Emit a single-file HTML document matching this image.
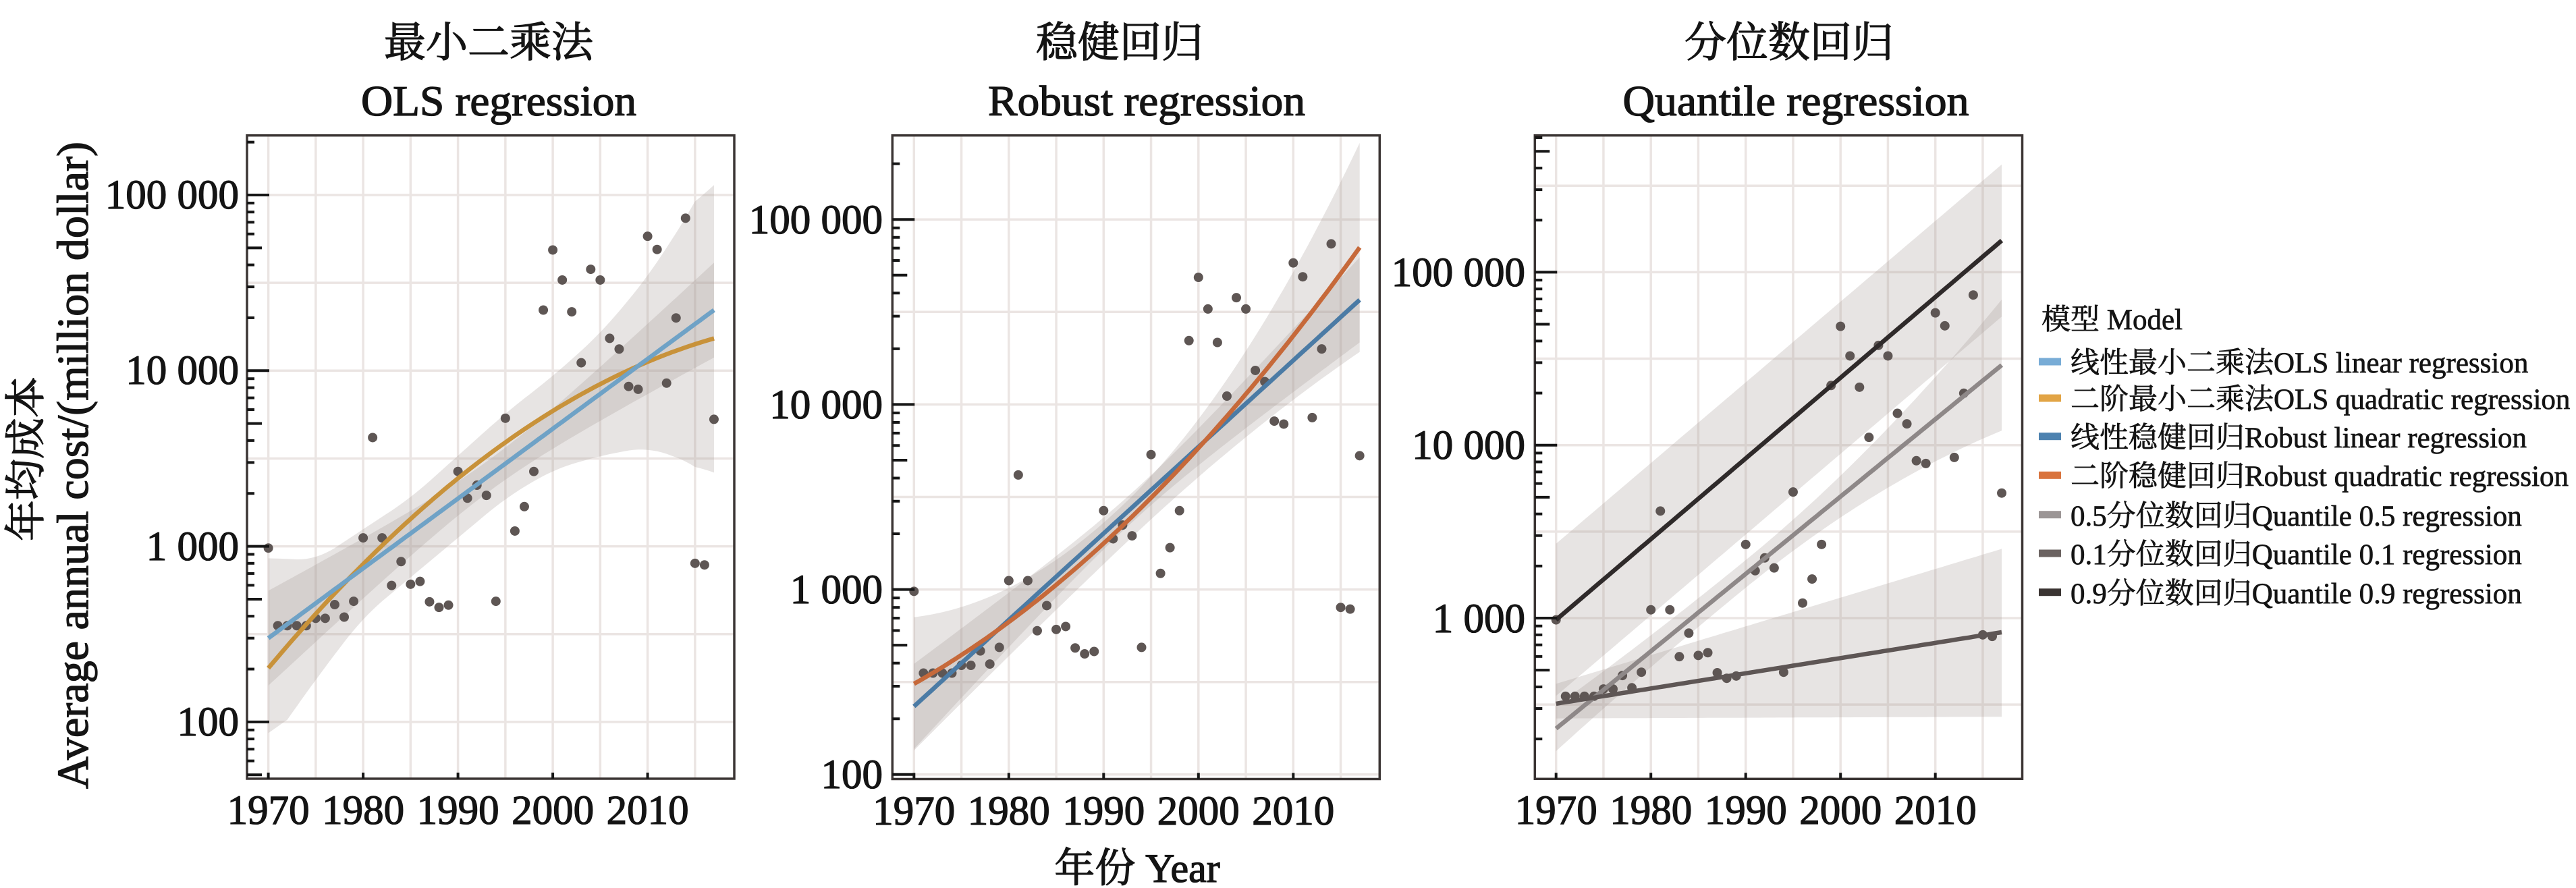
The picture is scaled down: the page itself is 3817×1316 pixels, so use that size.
<!DOCTYPE html>
<html><head><meta charset="utf-8">
<style>
html,body{margin:0;padding:0;background:#fff;}
svg{display:block;}
text{font-family:"Liberation Serif","Noto Serif CJK SC",serif;fill:#141414;stroke:#141414;stroke-width:1.3px;}
.lg text{stroke-width:0.7px;}
</style></head><body>
<svg id="s" width="3817" height="1316" viewBox="0 0 3817 1316" xmlns="http://www.w3.org/2000/svg">
<defs id="defs"></defs>
<rect x="0" y="0" width="3817" height="1316" fill="#ffffff"/>
<g id="root"></g>

<!-- Panel titles -->
<text x="724" y="84" font-size="62" text-anchor="middle">最小二乘法</text>
<text x="739" y="171" font-size="64" text-anchor="middle" textLength="408" lengthAdjust="spacingAndGlyphs">OLS regression</text>
<text x="1659" y="84" font-size="62" text-anchor="middle">稳健回归</text>
<text x="1699" y="171" font-size="64" text-anchor="middle" textLength="470" lengthAdjust="spacingAndGlyphs">Robust regression</text>
<text x="2651" y="84" font-size="62" text-anchor="middle">分位数回归</text>
<text x="2661" y="171" font-size="64" text-anchor="middle" textLength="513" lengthAdjust="spacingAndGlyphs">Quantile regression</text>

<!-- Y axis title -->
<text transform="translate(59,680) rotate(-90)" font-size="61" text-anchor="middle">年均成本</text>
<text transform="translate(130,689.5) rotate(-90)" font-size="66" text-anchor="middle" textLength="959" lengthAdjust="spacingAndGlyphs">Average annual cost/(million dollar)</text>

<!-- Panel 1 y tick labels -->
<g font-size="61" text-anchor="end">
<text x="354" y="309">100 000</text>
<text x="354" y="569">10 000</text>
<text x="354" y="830">1 000</text>
<text x="354" y="1090">100</text>
</g>
<!-- Panel 2 y tick labels -->
<g font-size="61" text-anchor="end">
<text x="1308" y="346">100 000</text>
<text x="1308" y="620">10 000</text>
<text x="1308" y="894">1 000</text>
<text x="1308" y="1168">100</text>
</g>
<!-- Panel 3 y tick labels -->
<g font-size="61" text-anchor="end">
<text x="2260" y="424">100 000</text>
<text x="2260" y="680">10 000</text>
<text x="2260" y="937">1 000</text>
</g>

<!-- X tick labels -->
<g font-size="61" text-anchor="middle">
<text x="397.6" y="1221">1970</text>
<text x="538.1" y="1221">1980</text>
<text x="678.6" y="1221">1990</text>
<text x="819.1" y="1221">2000</text>
<text x="959.6" y="1221">2010</text>

<text x="1354.3" y="1222">1970</text>
<text x="1494.8" y="1222">1980</text>
<text x="1635.3" y="1222">1990</text>
<text x="1775.8" y="1222">2000</text>
<text x="1916.3" y="1222">2010</text>

<text x="2305.7" y="1221">1970</text>
<text x="2446.2" y="1221">1980</text>
<text x="2586.7" y="1221">1990</text>
<text x="2727.2" y="1221">2000</text>
<text x="2867.7" y="1221">2010</text>
</g>

<!-- X axis title -->
<text x="1685" y="1307" font-size="60" text-anchor="middle">年份 Year</text>

<!-- Legend -->
<g class="lg">
<text x="3025" y="488" font-size="43">模型 Model</text>
<rect x="3021" y="530.5" width="33" height="11" fill="#78acd6"/>
<text x="3068" y="552" font-size="43">线性最小二乘法OLS linear regression</text>
<rect x="3021" y="584.5" width="33" height="11" fill="#e2a445"/>
<text x="3068" y="606" font-size="43">二阶最小二乘法OLS quadratic regression</text>
<rect x="3021" y="641.2" width="33" height="11" fill="#4d82b0"/>
<text x="3068" y="663" font-size="43">线性稳健回归Robust linear regression</text>
<rect x="3021" y="698.8" width="33" height="11" fill="#d9743e"/>
<text x="3068" y="720" font-size="43">二阶稳健回归Robust quadratic regression</text>
<rect x="3021" y="757.2" width="33" height="11" fill="#9c9696"/>
<text x="3068" y="779" font-size="43">0.5分位数回归Quantile 0.5 regression</text>
<rect x="3021" y="814.5" width="33" height="11" fill="#6b6361"/>
<text x="3068" y="836" font-size="43">0.1分位数回归Quantile 0.1 regression</text>
<rect x="3021" y="872.2" width="33" height="11" fill="#3b3533"/>
<text x="3068" y="894" font-size="43">0.9分位数回归Quantile 0.9 regression</text>
</g>
</svg>

<script>
(function(){
const NS='http://www.w3.org/2000/svg';
function el(tag,attrs,parent){const e=document.createElementNS(NS,tag);for(const k in attrs)e.setAttribute(k,attrs[k]);parent.appendChild(e);return e;}
const defs=document.getElementById('defs');
const root=document.getElementById('root');
const GRID='#ebe5e3', RIB='#a89b97', RIBOP=0.27, PT='#5e5654';
const PY=14.05;
const data=[2.990,2.548,2.548,2.548,2.548,2.590,2.590,2.668,2.597,2.687,
3.048,3.619,3.048,2.777,2.913,2.784,2.800,2.684,2.652,2.665,
3.426,3.274,3.348,3.290,2.687,3.729,3.087,3.226,3.426,4.345,
4.687,4.516,4.335,4.045,4.577,4.516,4.184,4.123,3.910,3.894,
4.765,4.690,3.929,4.300,4.868,2.903,2.894,3.723];

function interp(ks,vs,t){for(let i=0;i<ks.length-1;i++){if(t<=ks[i+1]){const f=(t-ks[i])/(ks[i+1]-ks[i]);return vs[i]+f*(vs[i+1]-vs[i]);}}return vs[vs.length-1];}
function smooth(arr,w){const out=[];for(let i=0;i<arr.length;i++){let s=0,c=0;for(let j=-w;j<=w;j++){const k=i+j;if(k>=0&&k<arr.length){s+=arr[k];c++;}}out.push(s/c);}return out;}
const TS=[];for(let t=0;t<=47.0001;t+=0.5)TS.push(t);

const panels=[
 {L:366,T:200.7,R:1088,B:1154,x0:397.6,y5:289,dec:260.3},
 {L:1322.3,T:200.7,R:2044.3,B:1154.5,x0:1354.3,y5:325.2,dec:274.2},
 {L:2274.3,T:200.7,R:2996.5,B:1154.3,x0:2305.7,y5:403.4,dec:256.3}];

function band(g,p,upArr,loArr){
 let d='';
 TS.forEach((t,i)=>{d+=(i?'L':'M')+p.X(t).toFixed(1)+','+p.Y(upArr[i]).toFixed(1);});
 for(let i=TS.length-1;i>=0;i--){d+='L'+p.X(TS[i]).toFixed(1)+','+p.Y(loArr[i]).toFixed(1);}
 d+='Z';
 el('path',{d:d,fill:RIB,'fill-opacity':RIBOP,stroke:'none'},g);
}
function curve(g,p,f,color,w){
 let d='';
 TS.forEach((t,i)=>{d+=(i?'L':'M')+p.X(t).toFixed(1)+','+p.Y(f(t)).toFixed(1);});
 el('path',{d:d,fill:'none',stroke:color,'stroke-width':w||6.5,'stroke-linecap':'butt','stroke-linejoin':'round'},g);
}
function fnBand(f,hw){return [TS.map(t=>f(t)+hw(t)),TS.map(t=>f(t)-hw(t))];}
function arrBand(ks,up,lo){return [smooth(TS.map(t=>interp(ks,up,t)),4),smooth(TS.map(t=>interp(ks,lo,t)),4)];}

panels.forEach((p,i)=>{
 p.X=t=>p.x0+t*PY;
 p.Y=v=>p.y5+(5-v)*p.dec;
 p.top=5+(p.y5-p.T)/p.dec; p.bot=5-(p.B-p.y5)/p.dec;
 const cid='clp'+i;
 const cp=el('clipPath',{id:cid},defs);
 el('rect',{x:p.L,y:p.T,width:p.R-p.L,height:p.B-p.T},cp);
 const g=el('g',{'clip-path':'url(#'+cid+')'},root);
 for(let k=0;k<10;k++){const x=p.X(5*k);el('line',{x1:x,x2:x,y1:p.T,y2:p.B,stroke:GRID,'stroke-width':3.5},g);}
 for(let v=1.5;v<=6.01;v+=0.5){if(v>p.bot&&v<p.top){const y=p.Y(v);el('line',{x1:p.L,x2:p.R,y1:y,y2:y,stroke:GRID,'stroke-width':3.5},g);}}
 if(i===0){
  const ks=[0,5,10,15,20,25,30,35,40,45,47];
  const b1=arrBand(ks,[2.935,2.919,3.097,3.274,3.516,3.758,3.968,4.210,4.532,4.952,5.161],[1.86,2.242,2.597,2.823,3.048,3.274,3.435,3.516,3.565,3.468,3.371]);
  band(g,p,b1[0],b1[1]);
  const lin=t=>2.477+0.03974*t;
  const b2=fnBand(lin,t=>Math.sqrt(0.0081+1.174e-4*(t-23.5)*(t-23.5)));
  band(g,p,b2[0],b2[1]);
  data.forEach((v,j)=>el('circle',{cx:p.X(j),cy:p.Y(v),r:7,fill:PT},g));
  curve(g,p,t=>2.306+0.06448*t-0.000522*t*t,'#c8923a');
  curve(g,p,lin,'#6fa2c6');
 } else if(i===1){
  const q=t=>2.490+0.02888*t+0.0004533*t*t;
  const lin=t=>2.368+0.04675*t;
  const b1=fnBand(q,t=>0.11+(t<22?5.17e-4:7.28e-4)*(t-22)*(t-22));
  band(g,p,b1[0],b1[1]);
  const b2=fnBand(lin,t=>Math.sqrt(0.0064+8.42e-5*(t-23.5)*(t-23.5)));
  band(g,p,b2[0],b2[1]);
  data.forEach((v,j)=>el('circle',{cx:p.X(j),cy:p.Y(v),r:7,fill:PT},g));
  curve(g,p,lin,'#4b7ba5');
  curve(g,p,q,'#c6693a');
 } else {
  const n9=t=>2.99+0.04666*t;
  const n5=t=>2.361+0.04472*t;
  const n1=t=>2.505+0.00879*t;
  const b9=fnBand(n9,t=>0.44);
  band(g,p,b9[0],b9[1]);
  const b5=fnBand(n5,t=>0.08+(t<=20?1.25e-4:4.1e-4)*(t-20)*(t-20));
  band(g,p,b5[0],b5[1]);
  band(g,p,TS.map(t=>2.62+0.0166*t),TS.map(t=>2.42+0.0002*t));
  data.forEach((v,j)=>el('circle',{cx:p.X(j),cy:p.Y(v),r:7,fill:PT},g));
  curve(g,p,n5,'#8e8888');
  curve(g,p,n1,'#5e5655');
  curve(g,p,n9,'#2f2a2a');
 }
 const f=el('g',{},root);
 el('rect',{x:p.L,y:p.T,width:p.R-p.L,height:p.B-p.T,fill:'none',stroke:'#3b3534','stroke-width':3.5},f);
 for(let k=1;k<=6;k++){for(let m=1;m<=9;m++){const v=k+Math.log10(m);if(v>p.bot+0.002&&v<p.top-0.002){const y=p.Y(v);const len=m===1?33:(m===5?22:11);el('line',{x1:p.L,x2:p.L+len,y1:y,y2:y,stroke:'#161616','stroke-width':4},f);}}}
 for(let k=0;k<5;k++){const x=p.X(10*k);el('line',{x1:x,x2:x,y1:p.B,y2:p.B-9,stroke:'#161616','stroke-width':4},f);}
});
})();
</script>
</body></html>
